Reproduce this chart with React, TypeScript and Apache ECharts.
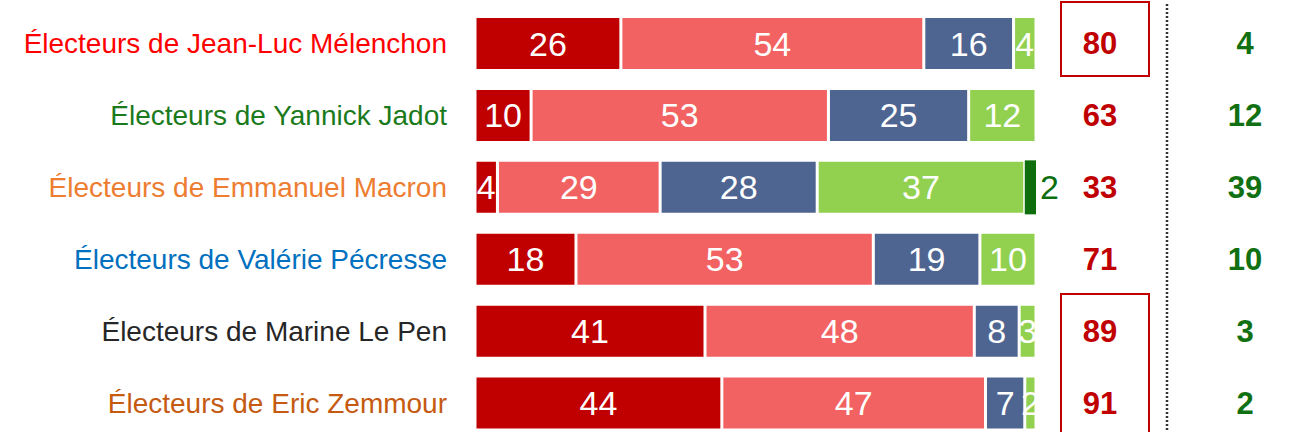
import React, { useEffect, useRef } from "react";
import * as echarts from "echarts";

const categories = [
  "Électeurs de Jean-Luc Mélenchon",
  "Électeurs de Yannick Jadot",
  "Électeurs de Emmanuel Macron",
  "Électeurs de Valérie Pécresse",
  "Électeurs de Marine Le Pen",
  "Électeurs de Eric Zemmour",
];
const categoryColors = ["#ff0000", "#1b7a1b", "#ed7d31", "#0070c0", "#262626", "#c55a11"];

const seriesNames = ["Très opposé", "Plutôt opposé", "Plutôt favorable", "Favorable", "Très favorable"];
const veryOpposed = [26, 10, 4, 18, 41, 44];
const ratherOpposed = [54, 53, 29, 53, 48, 47];
const ratherFavorable = [16, 25, 28, 19, 8, 7];
const favorable = [4, 12, 37, 10, 3, 2];
const veryFavorable = [0, 0, 2, 0, 0, 0];
const seriesColors = ["#c00000", "#f26262", "#4f6591", "#92d050", "#0e6e0e"];

const totalOpposed = veryOpposed.map((v, i) => v + ratherOpposed[i]);
const totalFavorable = favorable.map((v, i) => v + veryFavorable[i]);

// layout constants
const GRID_LEFT = 475;
const BAR_PX_PER_UNIT = 5.61;
const CHART_W = 1291;
const X_MAX = (CHART_W - GRID_LEFT) / BAR_PX_PER_UNIT;
const COL_OPPOSED_X = (1100 - GRID_LEFT) / BAR_PX_PER_UNIT;
const COL_FAVORABLE_X = (1245 - GRID_LEFT) / BAR_PX_PER_UNIT;
const FONT = "'Liberation Sans', Arial, sans-serif";

export default function App() {
  const ref = useRef<HTMLDivElement>(null);
  useEffect(() => {
    if (!ref.current) return;
    const chart = echarts.init(ref.current, null, { renderer: "svg" });
    const data = [veryOpposed, ratherOpposed, ratherFavorable, favorable, veryFavorable];
    const barSeries = data.map((arr, si) => ({
      name: seriesNames[si],
      type: "bar",
      stack: "total",
      barWidth: 54,
      itemStyle: { color: seriesColors[si], borderColor: "#ffffff", borderWidth: si === 4 ? 0 : 1.5 },
      label: {
        show: true,
        position: si === 4 ? "right" : "inside",
        distance: 4,
        color: si === 4 ? "#0e6e0e" : "#ffffff",
        fontFamily: FONT,
        fontSize: 34,
        formatter: (p: any) => (p.value > 0 ? String(p.value) : ""),
      },
      data: arr,
    }));
    const colSeries = (vals: number[], x: number, color: string) => ({
      type: "scatter",
      symbol: "circle",
      symbolSize: 0,
      silent: true,
      itemStyle: { opacity: 1, color },
      data: vals.map((v, i) => [x, i, v]),
      label: {
        show: true,
        position: "inside",
        color,
        opacity: 1,
        fontWeight: "bold",
        fontSize: 31,
        fontFamily: FONT,
        formatter: (p: any) => String(p.value[2]),
      },
    });
    chart.setOption({
      animation: false,
      grid: { left: GRID_LEFT, right: 0, top: 7.6, bottom: 0, containLabel: false },
      xAxis: {
        type: "value",
        min: 0,
        max: X_MAX,
        show: false,
      },
      yAxis: {
        type: "category",
        inverse: true,
        data: categories.map((c, i) => ({ value: c, textStyle: { color: categoryColors[i] } })),
        axisLine: { show: false },
        axisTick: { show: false },
        axisLabel: {
          margin: 28,
          fontSize: 28,
          fontFamily: FONT,
        },
      },
      series: [
        ...barSeries,
        colSeries(totalOpposed, COL_OPPOSED_X, "#c00000"),
        colSeries(totalFavorable, COL_FAVORABLE_X, "#117011"),
      ],
      graphic: [
        {
          type: "rect",
          shape: { x: 1061, y: 2, width: 88, height: 74 },
          style: { fill: "none", stroke: "#c00000", lineWidth: 2 },
        },
        {
          type: "rect",
          shape: { x: 1061, y: 294, width: 88, height: 160 },
          style: { fill: "none", stroke: "#c00000", lineWidth: 2 },
        },
        {
          type: "line",
          shape: { x1: 1167, y1: 4, x2: 1167, y2: 440 },
          style: { stroke: "#333333", lineWidth: 2.5, lineDash: [2, 2] },
        },
      ],
    });
    return () => chart.dispose();
  }, []);
  return (
    <div
      ref={ref}
      style={{ position: "fixed", left: 0, top: 0, width: 1291, height: 439, background: "#ffffff" }}
    />
  );
}
